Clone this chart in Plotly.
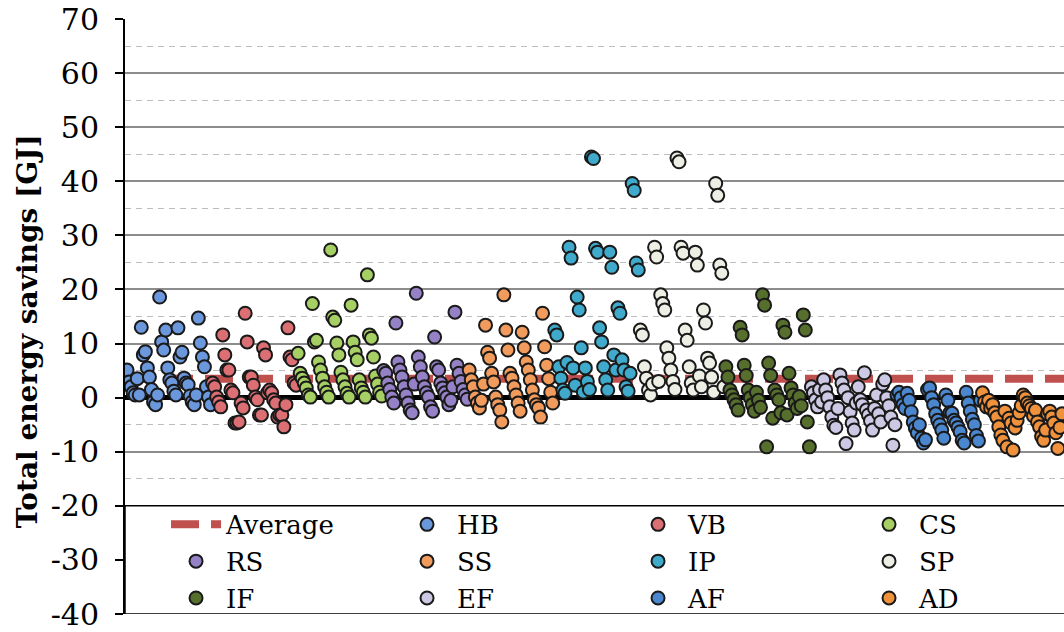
import plotly.graph_objects as go

# ---------------- data ----------------
series_names = ["HB", "VB", "CS", "RS", "SS", "IP", "SP", "IF", "EF", "AF", "AD"]

HB = [5.1, 2.9, 2.0, 0.9, 0.5, 3.5, 0.5, 13.0, 7.9, 8.5, 5.5, 3.8, 1.5, -0.8, -1.3,
      0.5, 18.6, 10.3, 8.8, 12.5, 5.5, 3.3, 2.7, 1.2, 0.5, 12.9, 7.5, 8.4, 3.6, 2.7,
      2.4, 0.3, -0.8, -1.3, 0.5, 14.7, 10.1, 7.5, 5.7, 2.0, 0.1, -1.3]
VB = [2.7, 2.0, 0.1, -0.8, -1.7, 11.6, 7.9, 5.1, 5.1, 1.4, 0.9, -4.7, -4.7, -4.5, -1.0,
      -1.9, 15.6, 10.3, 3.8, 3.8, 2.3, 0.1, -0.4, -3.2, -3.2, 9.2, 7.9, 0.9, 1.4, 0.9,
      -0.4, -1.0, -3.6, -3.2, -3.2, -5.4, -1.3, 12.9, 7.5, 7.0, 2.7, 2.3]
CS = [8.2, 4.5, 3.6, 2.7, 1.8, 0.5, 0.1, 17.4, 10.3, 10.6, 6.6, 5.1, 3.6, 2.0, 1.0,
      0.1, 27.3, 14.9, 14.3, 10.1, 7.9, 4.7, 3.3, 2.0, 0.8, 0.1, 17.1, 10.3, 8.4, 7.0,
      3.3, 1.8, 1.0, 0.1, 22.7, 11.6, 11.0, 7.5, 4.0, 2.5, 1.0, 0.3]
RS = [5.0, 4.5, 2.7, 1.5, 0.1, -1.0, 13.8, 6.6, 5.1, 3.8, 2.0, 0.5, -1.0, -2.3, -2.8,
      2.5, 19.3, 7.5, 5.7, 3.8, 2.0, 0.9, 0.1, -1.7, -2.5, 11.2, 5.7, 5.1, 2.7, 1.8,
      0.9, 0.1, -1.3, -0.5, 2.0, 15.8, 6.0, 4.5, 3.0, 1.5, 0.5, -0.3]
SS = [5.1, 3.3, 2.0, 0.1, -1.0, -1.9, -0.5, 2.5, 13.4, 8.4, 7.3, 4.5, 2.9, 0.1, -1.3,
      -2.3, -4.5, 19.0, 12.5, 8.8, 4.5, 3.6, 2.0, 0.5, -1.0, -2.5, 12.1, 9.2, 6.6, 5.1,
      3.3, 1.4, -0.4, -1.3, -1.9, -3.6, 15.6, 9.4, 6.0, 3.5, 1.0, -1.0]
IP = [12.5, 11.6, 5.7, 3.6, 1.4, 0.8, 6.5, 27.8, 25.8, 5.5, 2.3, 18.6, 16.2, 9.2, 1.0,
      5.5, 3.0, 1.5, 44.5, 44.2, 27.6, 26.9, 12.9, 10.3, 5.7, 3.3, 1.4, 26.9, 24.1, 7.9,
      5.1, 16.6, 15.6, 7.0, 5.1, 2.0, 1.2, 4.5, 39.6, 38.3, 24.9, 23.6]
SP = [12.5, 11.6, 5.7, 3.6, 1.4, 0.5, 2.5, 27.8, 26.0, 3.0, 19.0, 17.4, 16.2, 9.2, 7.3,
      5.1, 3.0, 1.5, 44.3, 43.6, 27.8, 26.7, 12.5, 10.6, 5.7, 2.7, 1.4, 26.9, 24.5, 4.0,
      2.0, 16.2, 13.8, 7.3, 6.4, 3.8, 1.0, 39.6, 37.4, 24.5, 23.0, 2.0]
IF = [5.7, 3.8, 1.4, 0.5, -0.4, -1.3, -2.3, 13.0, 11.6, 6.0, 4.1, 1.4, 0.0, -1.3, -2.5,
      1.0, -0.5, -1.8, 19.0, 17.1, -9.1, 6.4, 4.1, -3.8, 1.4, 0.5, -0.4, -2.8, 13.4, 12.1,
      -3.2, 4.5, 1.8, 0.5, -1.0, -2.0, 0.2, -1.5, 15.3, 12.5, -4.5, -9.1]
EF = [2.0, 0.9, -0.4, -1.7, 1.5, -0.8, 3.3, 1.4, 0.0, -1.7, -3.6, -5.1, -5.5, -2.0, 4.2,
      2.7, 1.4, -8.5, 0.0, -2.6, -4.7, -6.0, -1.0, 2.0, -0.4, -1.3, 4.6, -2.3, -3.2, -4.3,
      -6.0, -2.0, 0.5, -3.0, -4.5, 2.5, 3.3, 0.0, -1.5, -3.6, -8.8, -5.0]
AF = [0.5, 1.0, 0.0, -1.3, -2.0, 0.8, -0.5, -2.6, -4.5, -5.6, -6.5, -5.0, -7.5, -8.4, -7.8,
      1.5, 1.8, 0.0, -1.3, -3.0, -4.2, -5.0, -6.0, -7.5, 0.5, -0.5, -2.8, -2.9, -4.2, -4.7,
      -5.5, -6.3, -7.9, -8.4, 1.0, -1.0, -2.5, -4.0, -5.0, -7.0, -8.0, -0.5]
AD = [0.9, -0.8, -1.7, -0.5, -2.0, -1.3, -2.8, -3.6, -5.4, -6.9, -7.9, -2.5, -9.1, -3.8,
      -4.7, -9.7, -5.6, -4.2, -2.8, -1.5, 0.5, 0.0, -1.0, -1.5, -2.0, -3.4, -2.3, -4.5,
      -5.4, -7.2, -7.9, -6.0, -3.0, -2.5, -3.6, -4.7, -6.5, -9.4, -5.5, -3.0]

series_values = [HB, VB, CS, RS, SS, IP, SP, IF, EF, AF, AD]
series_colors = ["#6B97DC", "#DC6F74", "#A6CF64", "#9481C6", "#F19B5C", "#3FAACB",
                 "#EDEEE4", "#566F2C", "#CDC8E3", "#4A87CF", "#F0913C"]

average_value = 3.5

y_tick_values = [-40, -30, -20, -10, 0, 10, 20, 30, 40, 50, 60, 70]
y_tick_labels = ["-40", "-30", "-20", "-10", "0", "10", "20", "30", "40", "50", "60", "70"]
y_minor_values = [-35, -25, -15, -5, 5, 15, 25, 35, 45, 55, 65]
y_title = "Total energy savings [GJ]"

# ---------------- figure ----------------
fig = go.Figure()

n_total = sum(len(v) for v in series_values)
x_end = n_total + 1

fig.add_trace(go.Scatter(
    x=[0, x_end], y=[average_value, average_value], mode="lines", name="Average",
    line=dict(color="#C0504D", width=8, dash="28px,12px"), legendrank=1,
))

start = 1
for k, (name, vals, col) in enumerate(zip(series_names, series_values, series_colors)):
    xs = list(range(start, start + len(vals)))
    start += len(vals)
    fig.add_trace(go.Scatter(
        x=xs, y=vals, mode="markers", name=name, legendrank=2 + k,
        marker=dict(symbol="circle", size=13, color=col,
                    line=dict(color="#1a1a1a", width=2)),
    ))

serif = "DejaVu Serif"

fig.update_layout(
    width=1064, height=632,
    margin=dict(l=125, r=0, t=19, b=18, autoexpand=False),
    paper_bgcolor="white", plot_bgcolor="white",
    showlegend=True,
    legend=dict(
        orientation="h", x=0.0437, xanchor="left", y=0.190, yanchor="top",
        entrywidth=166, entrywidthmode="pixels", itemwidth=50,
        bgcolor="rgba(0,0,0,0)", borderwidth=0,
        font=dict(family=serif, size=26, color="black"),
        traceorder="normal",
    ),
    xaxis=dict(range=[0, x_end], visible=False),
    yaxis=dict(
        range=[-40, 70], tickmode="array", tickvals=y_tick_values, ticktext=y_tick_labels,
        ticks="outside", ticklen=8, tickwidth=1.5, tickcolor="black",
        ticklabelstandoff=10,
        showline=True, linecolor="black", linewidth=2,
        showgrid=True, gridcolor="#8c8c8c", gridwidth=1.5,
        zeroline=True, zerolinecolor="black", zerolinewidth=5,
        minor=dict(tickmode="array", tickvals=y_minor_values, showgrid=True,
                   gridcolor="#bdbdbd", gridwidth=1.3, griddash="6px,5px", ticks=""),
        tickfont=dict(family=serif, size=30, color="black"),
    ),
    annotations=[dict(
        text=f"<b>{y_title}</b>", textangle=-90, xref="paper", yref="paper",
        x=-0.1044, y=0.475, xanchor="center", yanchor="middle", showarrow=False,
        font=dict(family=serif, size=28, color="black"),
    )],
    shapes=[dict(
        type="rect", xref="paper", yref="y", x0=0, x1=1.01, y0=-40, y1=-20,
        fillcolor="white", line=dict(color="black", width=1.5), layer="above",
    )],
)

fig.write_html("out.html", config={"displayModeBar": False},
               post_script="document.body.style.margin='0';")
